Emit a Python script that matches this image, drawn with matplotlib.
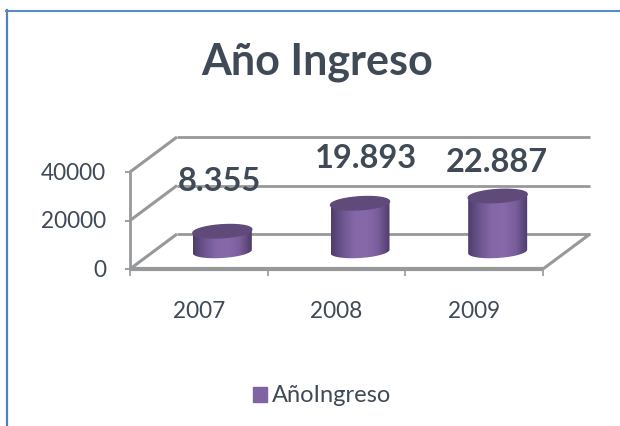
import numpy as np
import matplotlib
matplotlib.use("Agg")
import matplotlib.pyplot as plt
from matplotlib.lines import Line2D
from matplotlib.patches import Patch

plt.rcParams['font.family'] = ['Lato', 'DejaVu Sans']

years = ['2007', '2008', '2009']
values = [8355, 19893, 22887]
value_labels = ['8.355', '19.893', '22.887']
y_ticks = [0, 20000, 40000]
title = 'Año Ingreso'
series_name = 'AñoIngreso'

W, H = 620, 426
TEXT = '#3f4a56'
GRID = '#96989a'
BLUE = '#4f81bd'

fig = plt.figure(figsize=(W / 100, H / 100), dpi=100)
# axes box = front face of the 3d plot, in pixels
x0, x1, y_base, y_top = 130, 543, 269, 172
ax = fig.add_axes([x0 / W, 1 - y_base / H, (x1 - x0) / W, (y_base - y_top) / H])
ax.set_xlim(-0.5, 2.5)
ax.set_ylim(0, 40000)
ax.axis('off')

# pixel sizes to data units
px_x = 3 / (x1 - x0)
px_y = 40000 / (y_base - y_top)
dx = 47 * px_x    # depth of the floor
dy = 35 * px_y


def line(xs, ys, lw=2.2, color=GRID, z=1):
    ax.add_line(Line2D(xs, ys, color=color, lw=lw, clip_on=False, zorder=z,
                       solid_capstyle='butt'))


# back wall, side wall
for v in y_ticks:
    line([-0.5, -0.5 + dx], [v, v + dy])
    line([-0.5 + dx, 2.5 + dx], [v + dy, v + dy], lw=2.0)
    line([-0.5 - 5 * px_x, -0.5], [v, v], lw=1.3)
line([-0.5, -0.5], [0, 40000], lw=2.0)
line([-0.5, 2.5], [0, 0], lw=3.0, z=2)
line([2.5, 2.5 + dx], [0, dy])
for i in range(4):
    line([i - 0.5, i - 0.5], [0, -7 * px_y], lw=1.2)

# cylinders
rx = 29.5 * px_x
ry = 6.5 * px_y
tilt = 1.8 * px_y
t = np.linspace(0, 2 * np.pi, 120)
cmap = matplotlib.colors.LinearSegmentedColormap.from_list(
    'cyl', ['#4e3d6c', '#6d5690', '#8567a8', '#8769aa', '#7a5e9c', '#4d3c69'])
grad = np.linspace(0, 1, 128).reshape(1, -1)

for i, v in enumerate(values):
    cx = i + dx / 2
    cy = dy / 2
    ex = cx + rx * np.cos(t)
    ey = ry * np.sin(t) + tilt * np.cos(t)
    # body outline: lower half of base, upper half of top
    low = np.sin(t) <= 0
    order = np.argsort(np.cos(t[low]))
    bx = ex[low][order]
    by = cy + ey[low][order]
    outline_x = np.r_[bx, bx[::-1]]
    outline_y = np.r_[by, (cy + v + ey[low][order])[::-1]]
    body, = ax.fill(outline_x, outline_y, color='none', zorder=3, clip_on=False)
    im = ax.imshow(grad, cmap=cmap, aspect='auto', zorder=3,
                   extent=[cx - rx, cx + rx, cy - ry - tilt, cy + v + ry + tilt])
    im.set_clip_path(body)
    ax.fill(ex, cy + v + ey, color='#5f4a7a', zorder=4, clip_on=False)

ax.set_xlim(-0.5, 2.5)
ax.set_ylim(0, 40000)

# value labels sit above the cylinders
label_x = [219, 366, 497]
label_y = [182, 158, 162]
for s, lx, ly in zip(value_labels, label_x, label_y):
    fig.text(lx / W, 1 - ly / H, s, ha='center', va='center', color=TEXT,
             fontsize=23.5, fontweight='bold')

for v in y_ticks:
    ax.text(-0.5 - 24 * px_x, v - 1.5 * px_y, str(v), ha='right', va='center',
            color=TEXT, fontsize=16.3, clip_on=False)
for i, y in enumerate(years):
    ax.text(i, -42.5 * px_y, y, ha='center', va='center', color=TEXT, fontsize=16.3,
            clip_on=False)

fig.text(317 / W, 1 - 62 / H, title, ha='center', va='center', color=TEXT,
         fontsize=31, fontweight='bold')

fig.legend(handles=[Patch(color='#8064a2', label=series_name)], loc='center',
           bbox_to_anchor=(322 / W, 1 - 396 / H), frameon=False,
           fontsize=17, labelcolor=TEXT, handlelength=0.62, handleheight=0.62,
           handletextpad=0.2)

# chart frame, only left and top are in the crop
fig.add_artist(Line2D([7 / W, 7 / W], [0, 1 - 10 / H], color=BLUE, lw=1.6))
fig.add_artist(Line2D([6 / W, 1], [1 - 11 / H, 1 - 11 / H], color='#5b8ac6', lw=1.5))

fig.savefig('out.png', dpi=100)
